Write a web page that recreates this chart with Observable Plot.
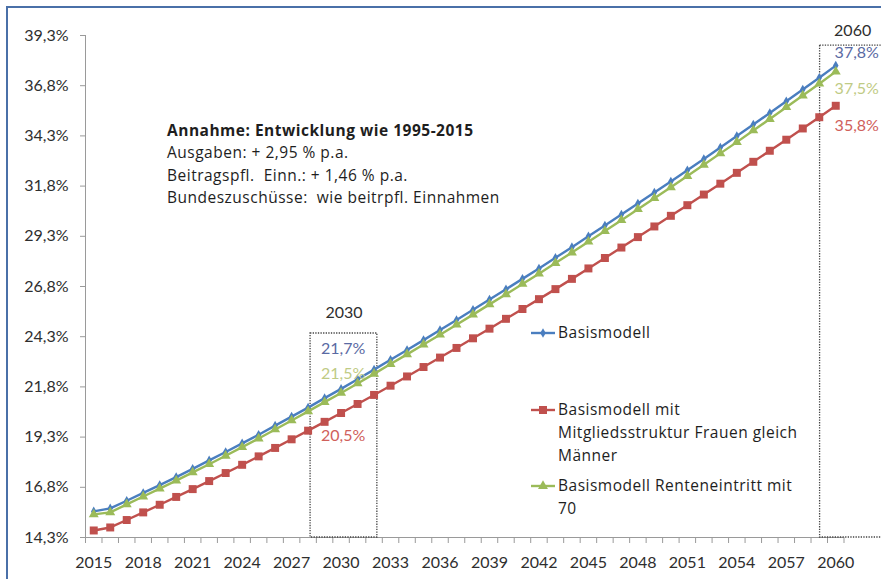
<!DOCTYPE html>
<html><head><meta charset="utf-8">
<script src="https://cdn.jsdelivr.net/npm/d3@7"></script>
<script src="https://cdn.jsdelivr.net/npm/@observablehq/plot@0.6"></script>
<style>
html,body{margin:0;padding:0;background:#fff;width:881px;height:579px;overflow:hidden;font-family:Lato,"Open Sans",sans-serif;}
#wrap{position:relative;width:881px;height:579px;overflow:hidden;}
#frame{position:absolute;left:6px;top:6px;width:900px;height:700px;border:2px solid #4a70a8;box-sizing:border-box;}
#chart{position:absolute;left:0;top:0;}
.note{position:absolute;left:167px;top:119px;font-family:"Open Sans",sans-serif;font-size:15.5px;letter-spacing:0.5px;line-height:22.4px;color:#1e1e1e;white-space:pre;}
.note b{font-weight:700;}
.leg{position:absolute;left:530px;font-family:"Open Sans",sans-serif;font-size:15.5px;letter-spacing:0.5px;line-height:23px;color:#1e1e1e;white-space:pre;}
.leg svg{position:absolute;left:0;top:5px;}
.leg span{display:block;margin-left:28px;}
</style></head>
<body>
<div id="wrap">
  <div id="frame"></div>
  <div id="chart"></div>
  <div class="note"><b>Annahme: Entwicklung wie 1995-2015</b>
Ausgaben: + 2,95 % p.a.
Beitragspfl.  Einn.: + 1,46 % p.a.
Bundeszuschüsse:  wie beitrpfl. Einnahmen</div>
  <div id="legend"></div>
</div>
<script>
// ---- data ----
const years = d3.range(2015, 2061);
const seriesNames = ["Basismodell", "Basismodell mit Mitgliedsstruktur Frauen gleich Männer", "Basismodell Renteneintritt mit 70"];
const basis = [15.60,15.75,16.13,16.52,16.91,17.31,17.72,18.14,18.56,18.99,19.42,19.87,20.32,20.77,21.24,21.70,
  22.18,22.66,23.15,23.64,24.13,24.63,25.13,25.64,26.15,26.66,27.18,27.70,28.23,28.76,29.30,
  29.84,30.38,30.93,31.48,32.03,32.59,33.15,33.72,34.29,34.87,35.44,36.03,36.61,37.20,37.80];
const frauen = [14.65,14.80,15.17,15.55,15.93,16.32,16.71,17.11,17.51,17.92,18.34,18.76,19.19,19.62,20.06,20.50,
  20.95,21.40,21.86,22.32,22.79,23.26,23.74,24.22,24.70,25.19,25.68,26.17,26.67,27.18,27.70,
  28.22,28.74,29.26,29.79,30.32,30.85,31.38,31.92,32.46,33.01,33.56,34.11,34.67,35.23,35.80];
const rente70 = [15.45,15.55,15.95,16.34,16.73,17.13,17.54,17.95,18.37,18.80,19.23,19.68,20.13,20.58,21.04,21.50,
  21.97,22.45,22.94,23.42,23.91,24.40,24.90,25.40,25.91,26.41,26.93,27.44,27.97,28.49,29.03,
  29.56,30.10,30.65,31.20,31.74,32.30,32.86,33.43,33.99,34.57,35.14,35.73,36.31,36.90,37.50];
const yTicks = [14.3,16.8,19.3,21.8,24.3,26.8,29.3,31.8,34.3,36.8,39.3];
const xTicks = [2015,2018,2021,2024,2027,2030,2033,2036,2039,2042,2045,2048,2051,2054,2057,2060];
const highlightYears = [2030, 2060];

// ---- styles ----
const lineColors = ["#4a7ebf", "#c0504d", "#9bbb59"];
const labelColors = ["#5a6aa3", "#d0605b", "#bfcb85"];
const symbols = ["diamond", "square", "triangle"];
const symbolR = [2.9, 4.5, 3.7];
const allValues = [basis, frauen, rente70];

const xDomain = [2014.5, 2060.5];
const yDomain = [14.3, 39.3];
const fmt = v => v.toFixed(1).replace(".", ",") + "%";

const rows = allValues.map((vals, k) => years.map((yr, i) => ({year: yr, value: vals[i], k})));

const boxes = [
  {year: 2030, x1: 2028.15, x2: 2032.2, top: 24.46, dy: -21},
  {year: 2060, x1: 2059.05, x2: 2063.0, top: 38.8, dy: -15}
];
// label offsets per [year][series]
const labOff = {
  2030: [[2, -40], [2, 23], [2, -19]],
  2060: [[21, -13], [21, 20], [21, 17]]
};
const labels = [];
highlightYears.forEach(yr => allValues.forEach((vals, k) => {
  const i = years.indexOf(yr);
  labels.push({year: yr, value: vals[i], k, dx: labOff[yr][k][0], dy: labOff[yr][k][1], text: fmt(vals[i])});
}));

const boundaries = d3.range(xDomain[0], xDomain[1] + 0.01, 1);

const marks = [
  Plot.ruleX([xDomain[0]], {stroke: "#9a9a9a", strokeWidth: 1}),
  Plot.ruleY([yDomain[0]], {stroke: "#9a9a9a", strokeWidth: 1}),
  Plot.axisY({ticks: yTicks, tickSize: 5, tickPadding: 12, tickFormat: fmt, stroke: "#9a9a9a", fill: "#2e2e2e", fontSize: 16}),
  Plot.axisX({ticks: boundaries, tickSize: 6, tickFormat: () => "", stroke: "#9a9a9a"}),
  Plot.axisX({ticks: xTicks, tickSize: 0, tickPadding: 19, tickFormat: d => String(d), fill: "#2e2e2e", fontSize: 16}),
  Plot.rect(boxes, {x1: "x1", x2: "x2", y1: yDomain[0], y2: "top", fill: "none", stroke: "#444", strokeWidth: 1.3, strokeDasharray: "1.3,1.3"}),
];
boxes.forEach(b => marks.push(Plot.text([b], {x: d => (d.x1 + d.x2) / 2, y: "top", dy: b.dy, text: d => String(d.year), fill: "#2e2e2e", fontSize: 16})));
rows.forEach((r, k) => {
  marks.push(Plot.line(r, {x: "year", y: "value", stroke: lineColors[k], strokeWidth: 2.4}));
  marks.push(Plot.dot(r, {x: "year", y: "value", symbol: symbols[k], r: symbolR[k], fill: lineColors[k], stroke: "none"}));
});
labels.forEach(l => marks.push(Plot.text([l], {x: "year", y: "value", dx: l.dx, dy: l.dy, text: "text", fill: labelColors[l.k], fontSize: 16})));

const chart = Plot.plot({
  width: 881, height: 579,
  marginLeft: 85, marginRight: 37.5, marginTop: 35, marginBottom: 42,
  x: {domain: xDomain, axis: null},
  y: {domain: yDomain, axis: null},
  style: {fontFamily: "Lato, 'Open Sans', sans-serif", fontSize: "16px", color: "#333", background: "transparent", overflow: "visible"},
  marks
});
document.getElementById("chart").appendChild(chart);

// ---- legend ----
const legendItems = [
  {k: 0, top: 321, lines: ["Basismodell"]},
  {k: 1, top: 398, lines: ["Basismodell mit", "Mitgliedsstruktur Frauen gleich", "Männer"]},
  {k: 2, top: 474, lines: ["Basismodell Renteneintritt mit", "70"]}
];
const leg = document.getElementById("legend");
legendItems.forEach(it => {
  const div = document.createElement("div");
  div.className = "leg";
  div.style.top = it.top + "px";
  const c = lineColors[it.k];
  const sym = d3.symbol(d3["symbol" + ["Diamond","Square","Triangle"][it.k]], Math.PI * symbolR[it.k] ** 2)();
  div.innerHTML = `<svg width="26" height="14"><line x1="1" x2="25" y1="7" y2="7" stroke="${c}" stroke-width="2.4"/><path d="${sym}" transform="translate(13,7)" fill="${c}"/></svg>` +
    `<span>${it.lines.join("\n")}</span>`;
  leg.appendChild(div);
});
</script>
</body></html>
